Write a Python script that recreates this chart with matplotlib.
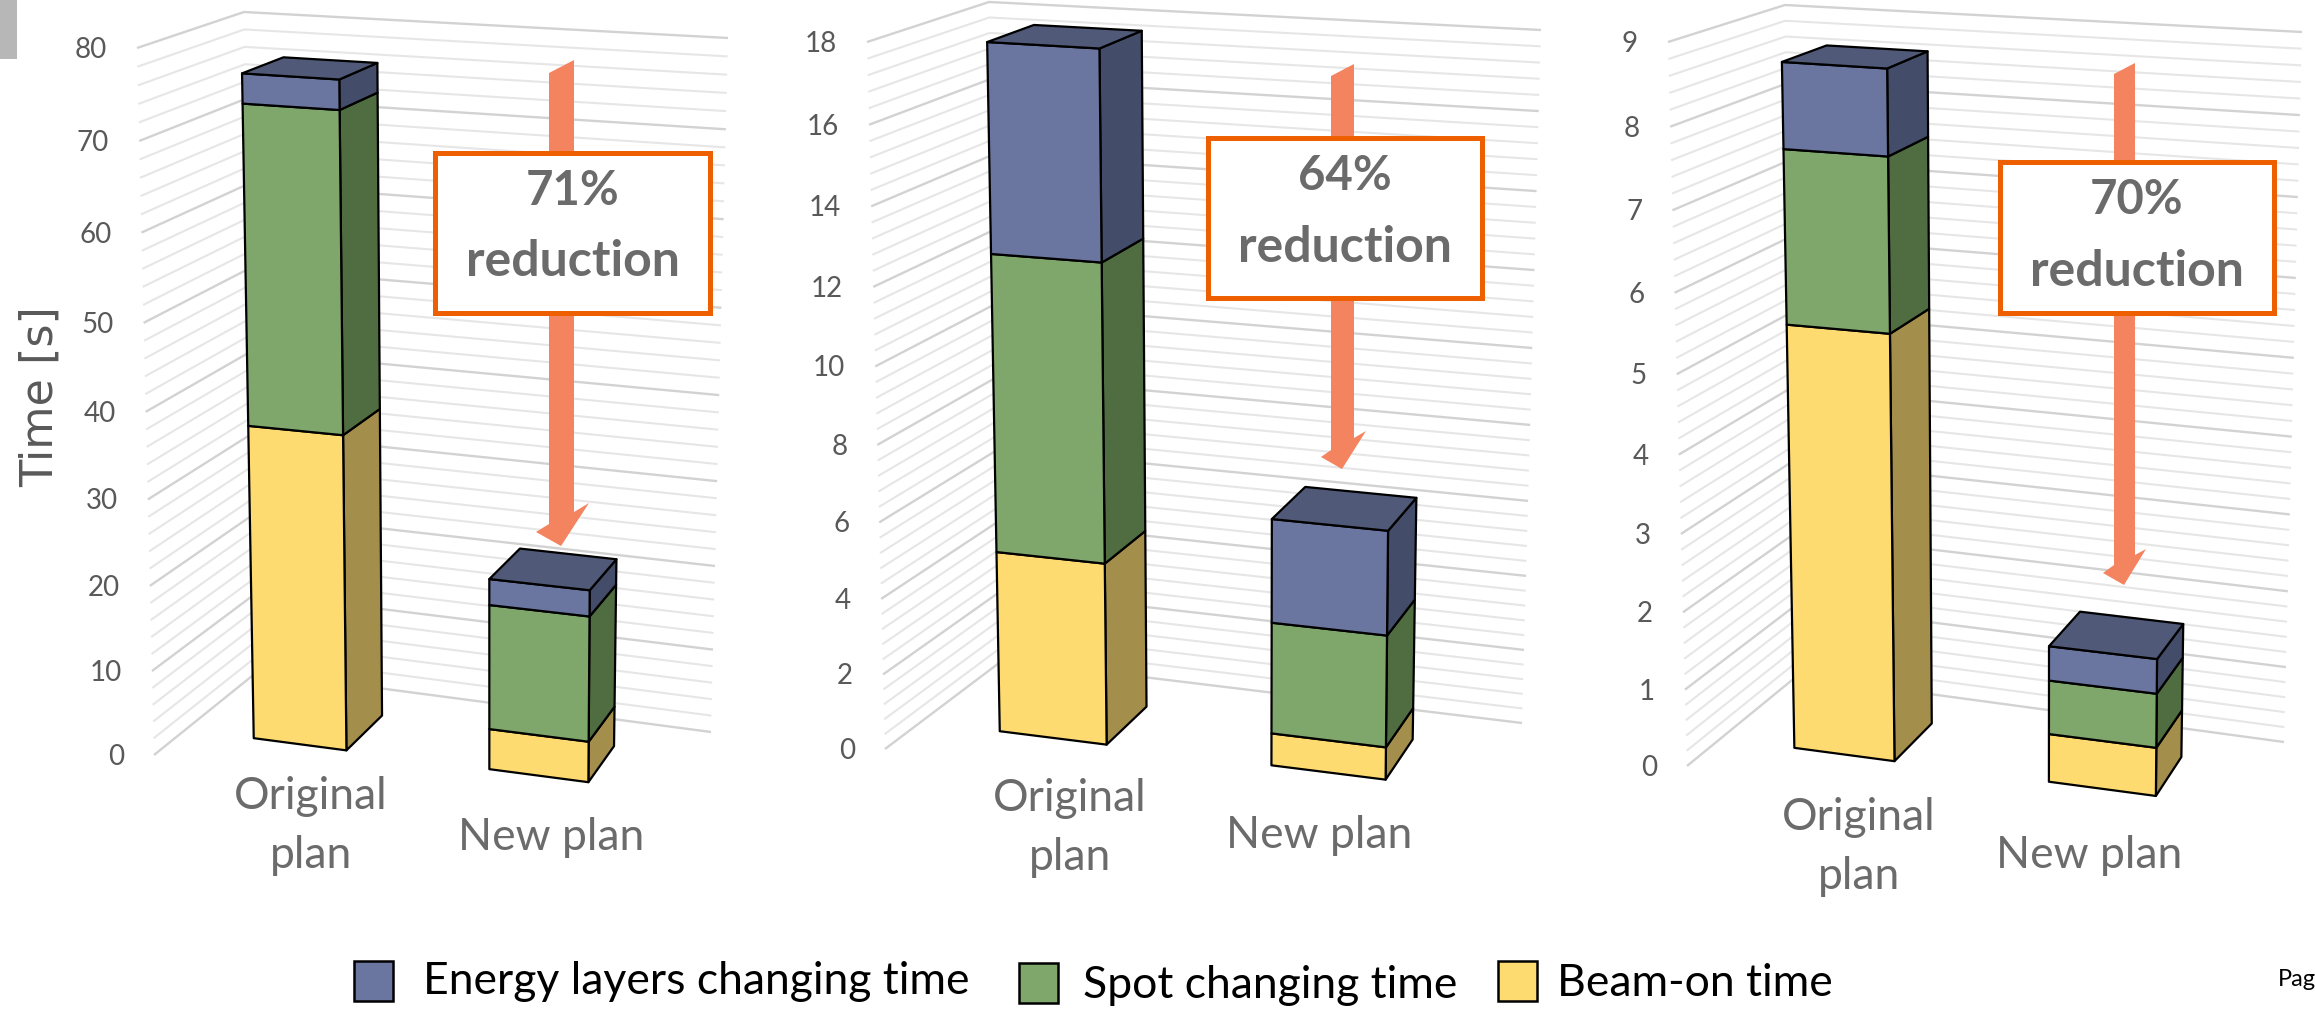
import matplotlib
matplotlib.use('Agg')
import matplotlib.pyplot as plt
from matplotlib.patches import Polygon, Rectangle
import numpy as np

# chart values, one entry per panel: [original plan, new plan]
categories = ['Original\nplan', 'New plan']
beam_on = [[37.0, 4.75], [4.83, 0.85], [5.47, 0.62]]
spot_changing = [[36.2, 14.5], [7.72, 2.91], [2.16, 0.69]]
energy_layers = [[3.3, 3.0], [5.26, 2.68], [1.05, 0.44]]
z_max = [80, 18, 9]
major_step = [10, 2, 1]
minor_step = [2, 0.4, 0.2]
reductions = ['71%', '64%', '70%']
legend_labels = ['Energy layers changing time', 'Spot changing time', 'Beam-on time']

# walls of each 3D box in pixels: floor FL FR BL BR, then ceiling FL FR BL BR
boxes = [
    [(154, 755), (657, 821), (257, 672), (711, 732), (137, 48), (663, 81), (244, 12), (728, 38)],
    [(885, 749), (1467, 823), (1003, 660), (1522, 723), (867, 42), (1476, 78), (989, 2), (1541, 30)],
    [(1687, 766), (2232, 838), (1797, 676), (2284, 742), (1668, 42), (2240, 78), (1785, 5), (2302, 32)],
]
# where the bars stand on the floor (fractions of width and depth)
bar_u = [(0.139, 0.329), (0.622, 0.825)]
bar_v = (0.31, 0.72)
# vertical perspective, the top of the walls is nearer to the viewer
height_warp = 1.06

label_pos = [[(311, 826), (551, 837)], [(1070, 828), (1319, 835)], [(1859, 847), (2089, 855)]]
box_pos = [(435, 153, 710, 313), (1208, 138, 1482, 298), (2000, 162, 2274, 313)]
box_text_x = [573, 1345, 2137]
# shaft left, shaft right, top left y, top right y, end left y, end right y, tip x, tip y, wing xs
arrows = [
    (549, 574, 73, 60, 524, 512, 561, 546, 536, 532, 589, 503),
    (1331, 1354, 76, 64, 450, 438, 1342, 469, 1321, 457, 1366, 431),
    (2114, 2135, 74, 63, 565, 555, 2124, 585, 2103, 573, 2146, 549),
]

# front, side, top
blue = ['#6A769F', '#434D69', '#505A78']
green = ['#7FA76B', '#506C41']
yellow = ['#FEDB71', '#A38E4B']
series_colors = [yellow, green, blue]
text_grey = '#6B6B6B'
arrow_color = '#F4845F'
box_edge = '#ED5F00'

plt.rcParams['font.family'] = ['Lato', 'DejaVu Sans']


def project(corners, u, v, z):
    # trilinear map from box coordinates to pixels
    c = np.array(corners, dtype=float)
    floor = (1-u)*(1-v)*c[0] + u*(1-v)*c[1] + (1-u)*v*c[2] + u*v*c[3]
    ceil = (1-u)*(1-v)*c[4] + u*(1-v)*c[5] + (1-u)*v*c[6] + u*v*c[7]
    h = z/(z + height_warp*(1 - z))
    return floor + (ceil - floor)*h


def draw_walls(ax, corners, top, major, minor):
    for value in np.arange(0, top + minor/2, minor):
        z = value/top
        pts = [project(corners, 0, 0, z), project(corners, 0, 1, z), project(corners, 1, 1, z)]
        pts = np.array(pts)
        is_major = abs(value/major - round(value/major)) < 1e-6
        if is_major:
            ax.plot(pts[:, 0], pts[:, 1], color='#D2D2D2', lw=1.7, zorder=1, solid_capstyle='butt')
            label = '%d' % round(value)
            ax.text(pts[0, 0] - 30, pts[0, 1] + 2, label, ha='right', va='center',
                    fontsize=20, color='#595959')
        else:
            ax.plot(pts[:, 0], pts[:, 1], color='#E6E6E6', lw=1.5, zorder=1, solid_capstyle='butt')


def draw_bar(ax, corners, top, u_range, stacks):
    u0, u1 = u_range
    v0, v1 = bar_v
    base = 0
    for value, colors in zip(stacks, series_colors):
        z0, z1 = base/top, (base + value)/top
        front = [project(corners, u0, v0, z0), project(corners, u1, v0, z0),
                 project(corners, u1, v0, z1), project(corners, u0, v0, z1)]
        side = [project(corners, u1, v0, z0), project(corners, u1, v1, z0),
                project(corners, u1, v1, z1), project(corners, u1, v0, z1)]
        ax.add_patch(Polygon(side, closed=True, fc=colors[1], ec='black', lw=1.6, zorder=3, joinstyle='round'))
        ax.add_patch(Polygon(front, closed=True, fc=colors[0], ec='black', lw=1.6, zorder=3, joinstyle='round'))
        base += value
    z = base/top
    lid = [project(corners, u0, v0, z), project(corners, u1, v0, z),
           project(corners, u1, v1, z), project(corners, u0, v1, z)]
    ax.add_patch(Polygon(lid, closed=True, fc=blue[2], ec='black', lw=1.6, zorder=3, joinstyle='round'))


fig = plt.figure(figsize=(23.15, 10.09), dpi=100)
ax = fig.add_axes([0, 0, 1, 1])
ax.set_xlim(0, 2315)
ax.set_ylim(1009, 0)
ax.axis('off')

ax.add_patch(Rectangle((0, 0), 17, 59, fc='#B7B7B7', ec='none'))

for i in range(3):
    corners = boxes[i]
    top = z_max[i]
    draw_walls(ax, corners, top, major_step[i], minor_step[i])

    # arrow sits behind the text box
    a = arrows[i]
    ax.add_patch(Polygon([(a[0], a[2]), (a[1], a[3]), (a[1], a[5]), (a[10], a[11]), (a[6], a[7]),
                          (a[8], a[9]), (a[0], a[4])], closed=True, fc=arrow_color, ec='none', zorder=2))

    for j in range(2):
        stacks = [beam_on[i][j], spot_changing[i][j], energy_layers[i][j]]
        draw_bar(ax, corners, top, bar_u[j], stacks)
        x, y = label_pos[i][j]
        ax.text(x, y, categories[j], ha='center', va='center', fontsize=32,
                color=text_grey, linespacing=1.55)

    x0, y0, x1, y1 = box_pos[i]
    ax.add_patch(Rectangle((x0, y0), x1 - x0, y1 - y0, fc='white', ec=box_edge, lw=3.6, zorder=4))
    ax.text(box_text_x[i], y0 + 38, reductions[i], ha='center', va='center', fontsize=34,
            fontweight='bold', color=text_grey, zorder=5)
    ax.text(box_text_x[i], y0 + 109, 'reduction', ha='center', va='center', fontsize=36,
            fontweight='bold', color=text_grey, zorder=5)

ax.text(40, 397, 'Time [s]', rotation=90, ha='center', va='center', fontsize=32,
        color='#595959', family=['DejaVu Sans'])

# legend drawn by hand because its entries do not sit on one line
swatches = [(354, 961, blue[0]), (1019, 963, green[0]), (1498, 961, yellow[0])]
text_x = [423, 1083, 1557]
text_y = [982, 985, 983]
for k in range(3):
    sx, sy, col = swatches[k]
    ax.add_patch(Rectangle((sx, sy), 39, 40, fc=col, ec='black', lw=1.8))
    ax.text(text_x[k], text_y[k], legend_labels[k], ha='left', va='center', fontsize=32, color='black')

ax.text(2278, 980, 'Pag', ha='left', va='center', fontsize=17, color='black')

fig.savefig('out.png', dpi=100)
